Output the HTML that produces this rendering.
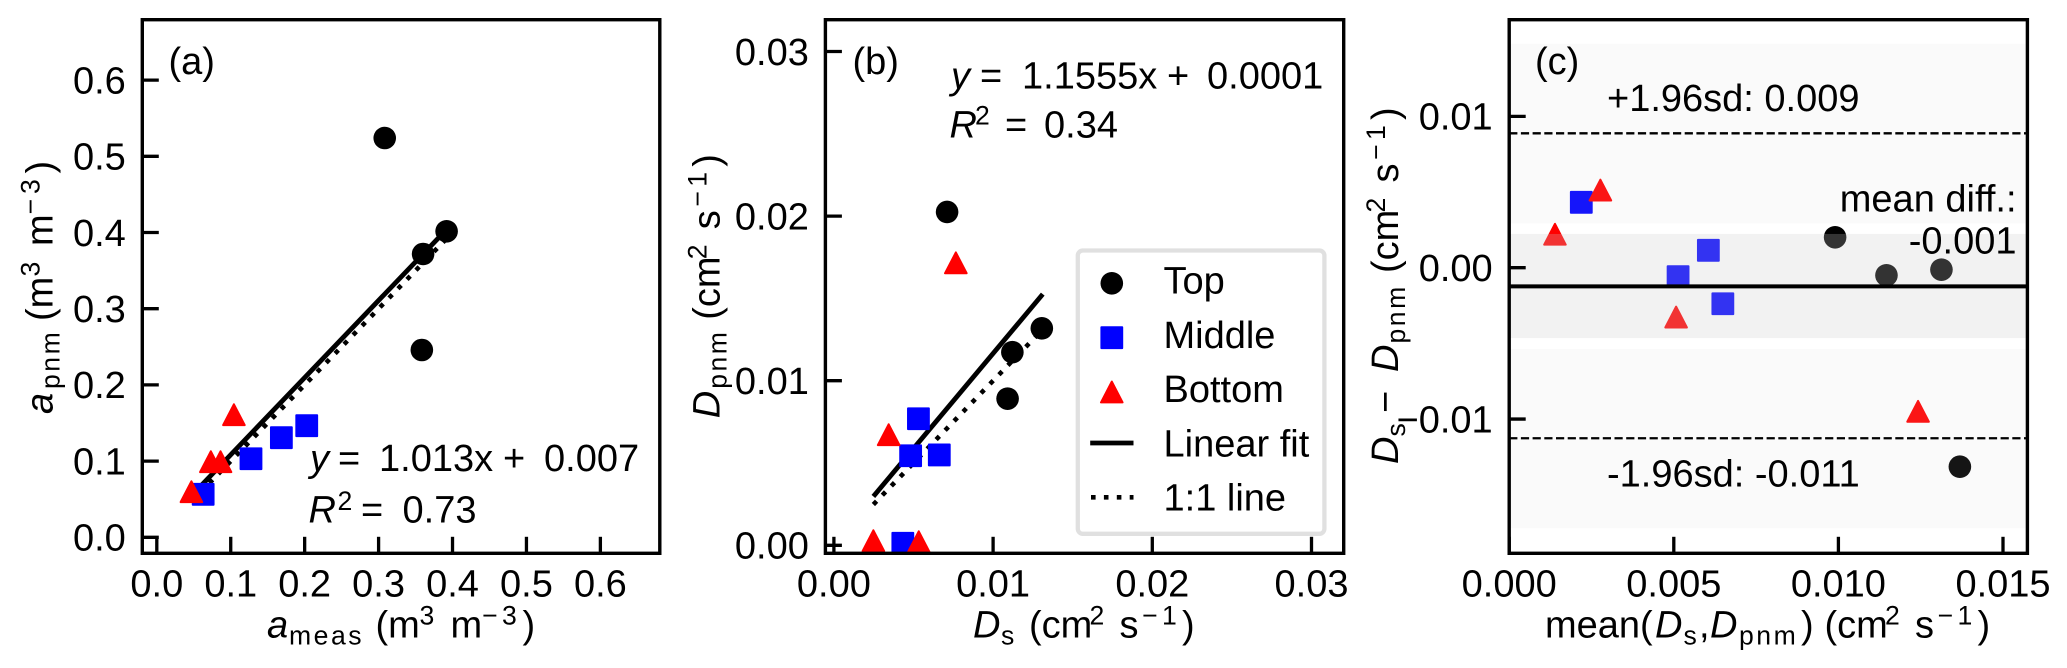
<!DOCTYPE html>
<html lang="en">
<head>
<meta charset="utf-8">
<title>Measured vs pore-network model comparison</title>
<style>
html,body{margin:0;padding:0;background:#fff;}
svg{display:block;}
text{font-family:"Liberation Sans",Arial,sans-serif;font-size:38px;fill:#000;}
.i{font-style:italic;}
.s{font-size:26.6px;}
.ls{font-size:26.6px;letter-spacing:2.5px;}
</style>
</head>
<body>
<svg id="figure" xmlns="http://www.w3.org/2000/svg" width="2067" height="668" viewBox="0 0 2067 668">
  <rect x="0" y="0" width="2067" height="668" fill="#fff"/>

  <g>
    <g id="a-marks"></g>
    <g id="a-ticks"></g>
    <rect x="142.3" y="19.7" width="517.5" height="533.6" fill="none" stroke="#000" stroke-width="3.4"/>
    <text x="168.5" y="74">(a)</text>
    <text y="471"><tspan class="i" x="310">y</tspan><tspan x="338">=</tspan><tspan x="379">1.013x</tspan><tspan x="503">+</tspan><tspan x="544">0.007</tspan></text>
    <text y="522.7"><tspan class="i" x="308.5">R</tspan><tspan class="s" x="337.5" y="510">2</tspan><tspan x="361" y="522.7">=</tspan><tspan x="402.5">0.73</tspan></text>
    <text y="637.3"><tspan class="i" x="267">a</tspan><tspan class="ls" x="289" y="644.3">meas</tspan><tspan x="375.5" y="637.3">(m</tspan><tspan class="s" x="419.5" y="624.3">3</tspan><tspan x="450.5" y="637.3">m</tspan><tspan class="s" x="482" y="624.3">−</tspan><tspan class="s" x="502" y="624.3">3</tspan><tspan x="522.5" y="637.3">)</tspan></text>
    <text transform="translate(52.3,414) rotate(-90)"><tspan class="i" x="0" y="0">a</tspan><tspan class="ls" x="25" y="7">pnm</tspan><tspan x="93" y="0">(m</tspan><tspan class="s" x="137.5" y="-13">3</tspan><tspan x="168" y="0">m</tspan><tspan class="s" x="199.5" y="-13">−</tspan><tspan class="s" x="220" y="-13">3</tspan><tspan x="240.5" y="0">)</tspan></text>
  </g>

  <g>
    <g id="b-marks"></g>
    <g id="b-ticks"></g>
    <rect x="825.4" y="19.7" width="518.3" height="533.6" fill="none" stroke="#000" stroke-width="3.4"/>
    <text x="852.5" y="74">(b)</text>
    <text y="88.3"><tspan class="i" x="951">y</tspan><tspan x="980">=</tspan><tspan x="1022">1.1555x</tspan><tspan x="1167">+</tspan><tspan x="1207">0.0001</tspan></text>
    <text y="137.3"><tspan class="i" x="949.5">R</tspan><tspan class="s" x="975" y="124.6">2</tspan><tspan x="1005" y="137.3">=</tspan><tspan x="1044">0.34</tspan></text>
    <text y="637.3"><tspan class="i" x="973">D</tspan><tspan class="ls" x="1001" y="644.3">s</tspan><tspan x="1029" y="637.3">(cm</tspan><tspan class="s" x="1089.5" y="624.3">2</tspan><tspan x="1119.5" y="637.3">s</tspan><tspan class="s" x="1142" y="624.3">−</tspan><tspan class="s" x="1162" y="624.3">1</tspan><tspan x="1182" y="637.3">)</tspan></text>
    <text transform="translate(719.6,418.3) rotate(-90)"><tspan class="i" x="0" y="0">D</tspan><tspan class="ls" x="29.5" y="7">pnm</tspan><tspan x="98.5" y="0">(cm</tspan><tspan class="s" x="159" y="-13">2</tspan><tspan x="189" y="0">s</tspan><tspan class="s" x="211.5" y="-13">−</tspan><tspan class="s" x="231.5" y="-13">1</tspan><tspan x="251.5" y="0">)</tspan></text>

    <g>
      <rect x="1077.8" y="250.5" width="246.6" height="283.3" rx="5" ry="5" fill="#fff" stroke="#e0e0e0" stroke-width="4.3"/>
      <circle cx="1111.8" cy="283.3" r="11.3" fill="#000"/>
      <text x="1163.5" y="293.3">Top</text>
      <rect x="1101.4" y="327.3" width="20.8" height="20.8" fill="#00f" stroke="#00f" stroke-width="2" stroke-linejoin="round"/>
      <text x="1163.5" y="348">Middle</text>
      <polygon points="1111.8,381.6 1101,402.4 1122.6,402.4" fill="#f00" stroke="#f00" stroke-width="2" stroke-linejoin="round"/>
      <text x="1163.5" y="402">Bottom</text>
      <line x1="1090.2" y1="443" x2="1133.5" y2="443" stroke="#000" stroke-width="4.8"/>
      <text x="1163.5" y="456.4">Linear fit</text>
      <line x1="1091" y1="497.3" x2="1133.5" y2="497.3" stroke="#000" stroke-width="4.6" stroke-dasharray="4.6 8.3"/>
      <text x="1163.5" y="510.5">1:1 line</text>
    </g>
  </g>

  <g>
    <g id="c-marks"></g>
    <g id="c-ticks"></g>
    <rect x="1509.2" y="19.7" width="518.2" height="533.6" fill="none" stroke="#000" stroke-width="3.4"/>
    <text x="1535" y="74">(c)</text>
    <text x="1607" y="111">+1.96sd: 0.009</text>
    <text x="2016.5" y="211.7" text-anchor="end">mean diff.:</text>
    <text x="2016.5" y="253.3" text-anchor="end">-0.001</text>
    <text x="1607" y="486.3">-1.96sd: -0.011</text>
    <text y="637.3"><tspan x="1545">mean(</tspan><tspan class="i" x="1655">D</tspan><tspan class="ls" x="1683.5" y="644.3">s</tspan><tspan x="1699" y="637.3">,</tspan><tspan class="i" x="1710">D</tspan><tspan class="ls" x="1739" y="644.3">pnm</tspan><tspan x="1801" y="637.3">)</tspan><tspan x="1824.5">(cm</tspan><tspan class="s" x="1885" y="624.3">2</tspan><tspan x="1915" y="637.3">s</tspan><tspan class="s" x="1937.5" y="624.3">−</tspan><tspan class="s" x="1957.5" y="624.3">1</tspan><tspan x="1977.5" y="637.3">)</tspan></text>
    <text transform="translate(1397.8,464) rotate(-90)"><tspan class="i" x="0" y="0">D</tspan><tspan class="ls" x="27.5" y="7">s</tspan><tspan x="51" y="0">−</tspan><tspan class="i" x="92" y="0">D</tspan><tspan class="ls" x="120.5" y="7">pnm</tspan><tspan x="191" y="0">(cm</tspan><tspan class="s" x="251.5" y="-13">2</tspan><tspan x="281.5" y="0">s</tspan><tspan class="s" x="304" y="-13">−</tspan><tspan class="s" x="324" y="-13">1</tspan><tspan x="344" y="0">)</tspan></text>
  </g>
</svg>

<script>
// Panel (a) data
const aTopX = [0.3083, 0.392, 0.3602, 0.3585];
const aTopY = [0.524, 0.4016, 0.3718, 0.2458];
const aMiddleX = [0.1274, 0.1685, 0.2028, 0.0627];
const aMiddleY = [0.1031, 0.1307, 0.1465, 0.0564];
const aBottomX = [0.1043, 0.0731, 0.0862, 0.0468];
const aBottomY = [0.1609, 0.0992, 0.0992, 0.0598];
const aFitX = [0.0468, 0.392];
const aFitY = [0.0544, 0.404];
const aOneToOneY = [0.0468, 0.392];
const aXTicks = [0, 0.1, 0.2, 0.3, 0.4, 0.5, 0.6];
const aXTickLabels = ['0.0', '0.1', '0.2', '0.3', '0.4', '0.5', '0.6'];
const aYTicks = [0, 0.1, 0.2, 0.3, 0.4, 0.5, 0.6];
const aYTickLabels = ['0.0', '0.1', '0.2', '0.3', '0.4', '0.5', '0.6'];

// Panel (b) data
const bTopX = [0.00711, 0.01121, 0.01091, 0.01306];
const bTopY = [0.02025, 0.01173, 0.00891, 0.01318];
const bMiddleX = [0.00531, 0.00482, 0.00662, 0.00433];
const bMiddleY = [0.00769, 0.00544, 0.00549, 0.00012];
const bBottomX = [0.00766, 0.00344, 0.00248, 0.00533];
const bBottomY = [0.01716, 0.00672, 0.00028, 0.00022];
const bFitX = [0.00248, 0.01312];
const bFitY = [0.00297, 0.01526];
const bOneToOneY = [0.00248, 0.01312];
const bXTicks = [0, 0.01, 0.02, 0.03];
const bXTickLabels = ['0.00', '0.01', '0.02', '0.03'];
const bYTicks = [0, 0.01, 0.02, 0.03];
const bYTickLabels = ['0.00', '0.01', '0.02', '0.03'];

// Panel (c) data
const cTopX = [0.0099, 0.01146, 0.01313, 0.01369];
const cTopY = [0.00201, -0.0005, -0.00013, -0.01315];
const cMiddleX = [0.00219, 0.00605, 0.00513, 0.00649];
const cMiddleY = [0.00432, 0.00115, -0.00059, -0.00238];
const cBottomX = [0.00277, 0.00139, 0.00507, 0.01242];
const cBottomY = [0.00513, 0.00221, -0.00326, -0.00949];
const cMeanDiff = [-0.00123];
const cLimits = [0.00888, -0.01127];
const cBandUpper = [0.0148, 0.00223, -0.00537];
const cBandLower = [0.00293, -0.00465, -0.0172];
const cXTicks = [0, 0.005, 0.01, 0.015];
const cXTickLabels = ['0.000', '0.005', '0.010', '0.015'];
const cYTicks = [-0.01, 0, 0.01];
const cYTickLabels = ['−0.01', '0.00', '0.01'];

// Axis functions
function xA(v) { return 156.8 + v * 739.3; }
function yA(v) { return 537.3 - v * 762; }
function xB(v) { return 833.9 + v * 15920; }
function yB(v) { return 545.3 - v * 16460; }
function xC(v) { return 1509.2 + v * 32920; }
function yC(v) { return 267.7 - v * 15135; }

const NS = 'http://www.w3.org/2000/svg';

function make(parent, tag, props) {
  const node = document.createElementNS(NS, tag);
  for (const key in props) {
    node.setAttribute(key, props[key]);
  }
  parent.appendChild(node);
  return node;
}

function drawCircles(parent, xs, ys, sx, sy) {
  xs.forEach(function (x, i) {
    const el = make(parent, 'circle', { cx: sx(x), cy: sy(ys[i]), r: 11.3, fill: '#000' });
    
    
  });
}

function drawSquares(parent, xs, ys, sx, sy) {
  xs.forEach(function (x, i) {
    const el = make(parent, 'rect', {
      x: sx(x) - 10.4, y: sy(ys[i]) - 10.4, width: 20.8, height: 20.8,
      fill: '#00f', stroke: '#00f', 'stroke-width': 2, 'stroke-linejoin': 'round'
    });
    
    
  });
}

function drawTriangles(parent, xs, ys, sx, sy) {
  xs.forEach(function (x, i) {
    const px = sx(x);
    const py = sy(ys[i]);
    const pts = [px, py - 10.4, px - 10.8, py + 10.4, px + 10.8, py + 10.4].join(' ');
    const el = make(parent, 'polygon', {
      points: pts, fill: '#f00', stroke: '#f00', 'stroke-width': 2, 'stroke-linejoin': 'round'
    });
    
    
  });
}

function drawFit(parent, xs, ys, sx, sy) {
  const el = make(parent, 'line', {
    x1: sx(xs[0]), y1: sy(ys[0]), x2: sx(xs[1]), y2: sy(ys[1]),
    stroke: '#000', 'stroke-width': 4.8
  });
  
  
}

function drawOneToOne(parent, xs, ys, sx, sy) {
  const el = make(parent, 'line', {
    x1: sx(xs[0]), y1: sy(ys[0]), x2: sx(xs[1]), y2: sy(ys[1]),
    stroke: '#000', 'stroke-width': 4.6, 'stroke-dasharray': '4.6 8.3'
  });
  
  
}

function drawXTicks(parent, ticks, labels, sx) {
  ticks.forEach(function (t, i) {
    const tick = make(parent, 'line', {
      x1: sx(t), y1: 553.3, x2: sx(t), y2: 536.8, stroke: '#000', 'stroke-width': 3.3
    });
    
    
    const label = make(parent, 'text', { x: sx(t), y: 596.7, 'text-anchor': 'middle' });
    label.textContent = labels[i];
    
    
  });
}

function drawYTicks(parent, ticks, labels, sy, frameLeft) {
  ticks.forEach(function (t, i) {
    const tick = make(parent, 'line', {
      x1: frameLeft, y1: sy(t), x2: frameLeft + 16.5, y2: sy(t), stroke: '#000', 'stroke-width': 3.3
    });
    
    
    const label = make(parent, 'text', { x: frameLeft - 16.5, y: sy(t) + 13.3, 'text-anchor': 'end' });
    label.textContent = labels[i];
    
    
  });
}

// Panel (a)
const aMarks = document.getElementById('a-marks');
drawOneToOne(aMarks, aFitX, aOneToOneY, xA, yA);
drawFit(aMarks, aFitX, aFitY, xA, yA);
drawCircles(aMarks, aTopX, aTopY, xA, yA);
drawSquares(aMarks, aMiddleX, aMiddleY, xA, yA);
drawTriangles(aMarks, aBottomX, aBottomY, xA, yA);
const aTicks = document.getElementById('a-ticks');
drawXTicks(aTicks, aXTicks, aXTickLabels, xA);
drawYTicks(aTicks, aYTicks, aYTickLabels, yA, 142.3);

// Panel (b)
const bMarks = document.getElementById('b-marks');
drawOneToOne(bMarks, bFitX, bOneToOneY, xB, yB);
drawFit(bMarks, bFitX, bFitY, xB, yB);
drawCircles(bMarks, bTopX, bTopY, xB, yB);
drawSquares(bMarks, bMiddleX, bMiddleY, xB, yB);
drawTriangles(bMarks, bBottomX, bBottomY, xB, yB);
const bTicks = document.getElementById('b-ticks');
drawXTicks(bTicks, bXTicks, bXTickLabels, xB);
drawYTicks(bTicks, bYTicks, bYTickLabels, yB, 825.4);

// Panel (c): points sit under the translucent limit bands
const cMarks = document.getElementById('c-marks');
drawCircles(cMarks, cTopX, cTopY, xC, yC);
drawSquares(cMarks, cMiddleX, cMiddleY, xC, yC);
drawTriangles(cMarks, cBottomX, cBottomY, xC, yC);
cBandUpper.forEach(function (upper, i) {
  const band = make(cMarks, 'rect', {
    x: 1509.2, y: yC(upper), width: 516.5, height: yC(cBandLower[i]) - yC(upper),
    fill: '#ccc', 'fill-opacity': i === 1 ? 0.25 : 0.1
  });
  
  
});
cLimits.forEach(function (limit) {
  const line = make(cMarks, 'line', {
    x1: 1509.2, y1: yC(limit), x2: 2027.4, y2: yC(limit),
    stroke: '#000', 'stroke-width': 2.3, 'stroke-dasharray': '8.2 3.5'
  });
  
  
});
cMeanDiff.forEach(function (mean) {
  const line = make(cMarks, 'line', {
    x1: 1509.2, y1: yC(mean), x2: 2027.4, y2: yC(mean), stroke: '#000', 'stroke-width': 4
  });
  
  
});
const cTicks = document.getElementById('c-ticks');
drawXTicks(cTicks, cXTicks, cXTickLabels, xC);
drawYTicks(cTicks, cYTicks, cYTickLabels, yC, 1509.2);
</script>
</body>
</html>
